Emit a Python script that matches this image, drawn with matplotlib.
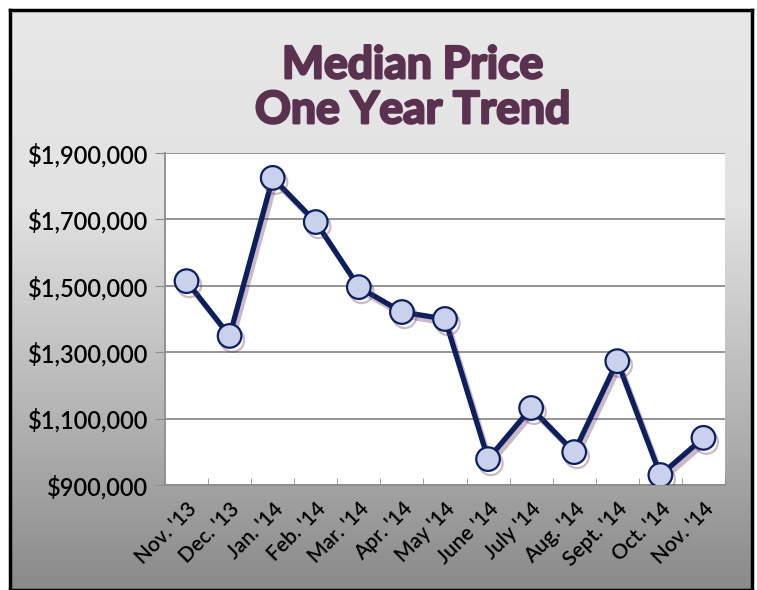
import numpy as np
import matplotlib.pyplot as plt
import matplotlib.patheffects as pe
from matplotlib.ticker import FuncFormatter

# dados
meses = ["Nov. '13", "Dec. '13", "Jan. '14", "Feb. '14", "Mar. '14", "Apr. '14", "May '14",
         "June '14", "July '14", "Aug. '14", "Sept. '14", "Oct. '14", "Nov. '14"]
mediana = [1514000, 1349000, 1825000, 1692000, 1496000, 1421000, 1400000,
           978000, 1132000, 999000, 1273000, 930000, 1042000]
titulo = "Median Price\nOne Year Trend"

plt.rcParams['font.family'] = ['Lato', 'DejaVu Sans']

fig = plt.figure(figsize=(7.57, 5.90), dpi=100)
fig.patch.set_facecolor('white')

# fundo com degradê
bg = fig.add_axes([10 / 757, 0.0, 742 / 757, 1 - 10 / 590])
grad = np.linspace(0, 1, 256).reshape(-1, 1)
cores = plt.matplotlib.colors.LinearSegmentedColormap.from_list(
    'cinza', ['#e8e8e8', '#e2e2e2', '#b8b8b8', '#8a8a8a'])
bg.imshow(grad, aspect='auto', cmap=cores, extent=[0, 1, 0, 1], origin='upper')
bg.set_xticks([])
bg.set_yticks([])
for s in bg.spines.values():
    s.set_color('black')
    s.set_linewidth(2.5)
bg.set_zorder(0)

bg.text(0.543, 0.866, titulo, ha='center', va='center', fontsize=32, fontweight='bold',
        color='#5b3150', linespacing=1.15, transform=bg.transAxes,
        path_effects=[pe.withStroke(linewidth=1.8, foreground='#5b3150')])

ax = fig.add_axes([165 / 757, 105 / 590, 560 / 757, 332 / 590])
ax.set_zorder(1)
ax.set_facecolor('white')

x = np.arange(len(meses))
ax.plot(x, mediana, color='#0c1f5e', linewidth=3.8, marker='o', markersize=17,
        markerfacecolor='#c9d1ec', markeredgecolor='#0c1f5e', markeredgewidth=1.6,
        path_effects=[pe.SimpleLineShadow(offset=(2, -3), shadow_color='#6a3a5a', alpha=0.35),
                      pe.Normal()], zorder=3)

ax.set_xlim(-0.5, len(meses) - 0.5)
ax.set_ylim(900000, 1900000)
ax.set_yticks(np.arange(900000, 1900001, 200000))
ax.yaxis.set_major_formatter(FuncFormatter(lambda v, p: '${:,.0f}'.format(v)))
ax.grid(axis='y', color='#8c8c8c', linewidth=1.3)
ax.set_axisbelow(True)

ax.set_xticks(x)
ax.set_xticklabels(meses, rotation=45, ha='right', rotation_mode='anchor', fontsize=15)
ax.set_xticks(np.arange(-0.5, len(meses), 1), minor=True)
ax.tick_params(axis='x', which='major', length=0, pad=10)
ax.tick_params(axis='x', which='minor', direction='in', length=5, color='#8c8c8c')
ax.tick_params(axis='y', length=7, color='#8c8c8c', labelsize=17, pad=5)
for t in ax.get_yticklabels() + ax.get_xticklabels():
    t.set_fontweight('semibold')

for lado in ['top', 'right']:
    ax.spines[lado].set_visible(False)
for lado in ['left', 'bottom']:
    ax.spines[lado].set_color('#8c8c8c')
    ax.spines[lado].set_linewidth(1.3)

plt.savefig('out.png', dpi=100)
